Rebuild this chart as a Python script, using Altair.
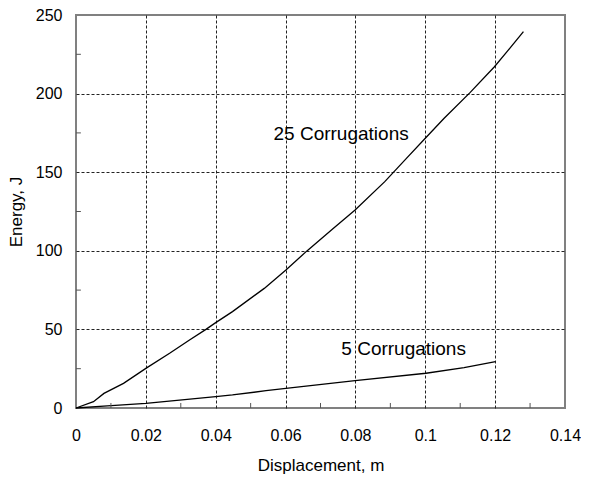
import altair as alt
import pandas as pd

# 25 corrugations curve
x25 = [0, 0.005, 0.008, 0.0136, 0.020, 0.0268, 0.0325, 0.0372, 0.040, 0.0448, 0.0539,
       0.0601, 0.0662, 0.0733, 0.0799, 0.0884, 0.0946, 0.1000, 0.1054, 0.1128, 0.1198,
       0.1234, 0.1281]
y25 = [0.0, 4.0, 9.3, 15.7, 25.2, 34.8, 43.3, 50.0, 54.3, 61.3, 76.1,
       87.8, 100.1, 113.6, 126.0, 144.0, 158.8, 171.6, 184.3, 200.6, 217.1,
       226.7, 239.4]

# 5 corrugations curve
x5 = [0, 0.009, 0.020, 0.040, 0.0448, 0.0544, 0.0601, 0.0799, 0.1002, 0.1111, 0.1201]
y5 = [0, 1.3, 3.0, 7.2, 8.3, 11.0, 12.5, 17.4, 22.1, 25.7, 29.5]

# annotations
label_text = ["25 Corrugations", "5 Corrugations"]
label_x = [0.0759, 0.0938]
label_y = [174.6, 37.5]

x_ticks = [0, 0.02, 0.04, 0.06, 0.08, 0.1, 0.12, 0.14]
y_ticks = [0, 50, 100, 150, 200, 250]
x_minor = [0.01, 0.03, 0.05, 0.07, 0.09, 0.11, 0.13]
y_minor = [25, 75, 125, 175, 225]

FONT = "Liberation Sans"

df = pd.concat([
    pd.DataFrame({"x": x25, "y": y25, "s": "25"}),
    pd.DataFrame({"x": x5, "y": y5, "s": "5"}),
])

xscale = alt.Scale(domain=[0, 0.14], nice=False, zero=False)
yscale = alt.Scale(domain=[0, 250], nice=False, zero=False)

grid_op = {"condition": {"test": "datum.value == 0 || datum.value == 250 || datum.value == 0.14", "value": 0}, "value": 1}

lines = alt.Chart(df).mark_line(color="black", strokeWidth=1.3).encode(
    x=alt.X("x:Q", scale=xscale,
            axis=alt.Axis(values=x_ticks, format=".2~f", title="Displacement, m",
                          grid=True, gridDash=[3, 2], gridColor="#222", gridWidth=1,
                          gridOpacity=grid_op, labelFlush=False,
                          ticks=False, domain=False, labelPadding=19,
                          labelFontSize=16, labelFont=FONT, labelColor="black",
                          titleFontSize=17, titleFont=FONT, titleFontWeight="normal",
                          titleColor="black", titleBaseline="alphabetic", titleY=62)),
    y=alt.Y("y:Q", scale=yscale,
            axis=alt.Axis(values=y_ticks, title="Energy, J",
                          grid=True, gridDash=[3, 2], gridColor="#222", gridWidth=1,
                          gridOpacity=grid_op, labelFlush=False,
                          ticks=False, domain=False, labelPadding=14,
                          labelFontSize=16, labelFont=FONT, labelColor="black",
                          titleFontSize=17, titleFont=FONT, titleFontWeight="normal",
                          titleColor="black", titleBaseline="alphabetic", titleX=-55)),
    detail="s:N",
    order="x:Q",
)

xm = alt.Chart(pd.DataFrame({"x": x_minor})).mark_rule(color="#555", strokeWidth=1).encode(
    x=alt.X("x:Q", scale=xscale),
    y=alt.datum(0, scale=yscale),
    y2=alt.datum(3.2),
)
ym = alt.Chart(pd.DataFrame({"y": y_minor})).mark_rule(color="#555", strokeWidth=1).encode(
    y=alt.Y("y:Q", scale=yscale),
    x=alt.datum(0, scale=xscale),
    x2=alt.datum(0.0014),
)

labels = alt.Chart(pd.DataFrame({"t": label_text, "x": label_x, "y": label_y})).mark_text(
    font=FONT, fontSize=19, color="black", align="center", baseline="middle"
).encode(
    x=alt.X("x:Q", scale=xscale),
    y=alt.Y("y:Q", scale=yscale),
    text="t:N",
)

chart = alt.layer(lines, xm, ym, labels).properties(
    width=489, height=393,
    autosize=alt.AutoSizeParams(type="none"),
    padding={"left": 68, "top": 7, "right": 16, "bottom": 69},
    background="white",
).configure_view(stroke="#808080", strokeWidth=2)

chart.save("out.html", embed_options={"renderer": "svg", "actions": False})
